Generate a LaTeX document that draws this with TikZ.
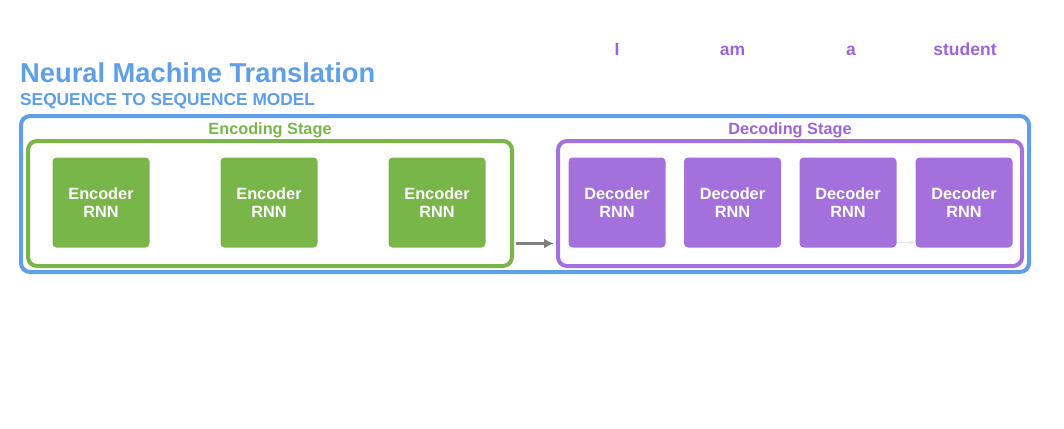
\documentclass[tikz,border=0pt]{standalone}
\usepackage{fontspec}
\setmainfont{Liberation Sans}[BoldFont={Liberation Sans Bold}]
\usetikzlibrary{arrows.meta}
\definecolor{bleu}{HTML}{5E9FE8}
\definecolor{vert}{HTML}{79B64A}
\definecolor{violet}{HTML}{A470DC}
\definecolor{violettxt}{HTML}{9C64D6}
\begin{document}
\begin{tikzpicture}[x=1pt,y=-1pt]
\tikzset{encbloc/.style={fill=vert, rounded corners=4pt, minimum width=97pt, minimum height=90pt, align=center, text=white, font=\fontsize{16.3}{18.5}\selectfont\bfseries},
decbloc/.style={encbloc, fill=violet},
cadre/.style={draw, line width=4pt, rounded corners=9pt, inner sep=0pt},
etiq/.style={anchor=base, font=\fontsize{16.3}{19}\selectfont\bfseries}}
\useasboundingbox (0,0) rectangle (1064,428);
\node[anchor=base west, inner sep=0pt, text=bleu, font=\fontsize{27.3}{32}\selectfont\bfseries] (T) at (20,82) {Neural Machine Translation};
\node[anchor=base west, inner sep=0pt, text=bleu, font=\fontsize{17.3}{20}\selectfont\bfseries] (S) at (20,105.5) {SEQUENCE TO SEQUENCE MODEL};
\node[cadre, bleu, minimum width=1008pt, minimum height=156pt] (M) at (525,194) {};
\node[cadre, vert, minimum width=484pt, minimum height=125pt] (ENC) at (270,203.5) {};
\node[cadre, violet, minimum width=464pt, minimum height=125pt] (DEC) at (790,203.5) {};
\node[etiq, text=vert] (LE) at (270,134) {Encoding Stage};
\node[etiq, text=violettxt] (LD) at (790,134) {Decoding Stage};
\node[encbloc] (E1) at (101,202.5) {Encoder\\RNN};
\node[encbloc] (E2) at (269,202.5) {Encoder\\RNN};
\node[encbloc] (E3) at (437,202.5) {Encoder\\RNN};
\node[decbloc] (D1) at (617,202.5) {Decoder\\RNN};
\node[decbloc] (D2) at (732.5,202.5) {Decoder\\RNN};
\node[decbloc] (D3) at (848,202.5) {Decoder\\RNN};
\node[decbloc] (D4) at (964,202.5) {Decoder\\RNN};
\node[etiq, text=violettxt, font=\fontsize{17.5}{20}\selectfont\bfseries] (W1) at (617,56) {I};
\node[etiq, text=violettxt, font=\fontsize{17.5}{20}\selectfont\bfseries] (W2) at (732.5,56) {am};
\node[etiq, text=violettxt, font=\fontsize{17.5}{20}\selectfont\bfseries] (W3) at (851,56) {a};
\node[etiq, text=violettxt, font=\fontsize{17.5}{20}\selectfont\bfseries] (W4) at (965,56) {student};
\draw[-{Latex[length=10pt,width=10pt]}, gray, line width=2.2pt, shorten <=2pt, shorten >=2pt] ([yshift=-40pt]ENC.east) -- ([yshift=-40pt]DEC.west);
\draw[-latex, gray!20, line width=1pt] ([yshift=-40pt]D3.east) -- ([yshift=-40pt]D4.west);
\end{tikzpicture}
\end{document}
